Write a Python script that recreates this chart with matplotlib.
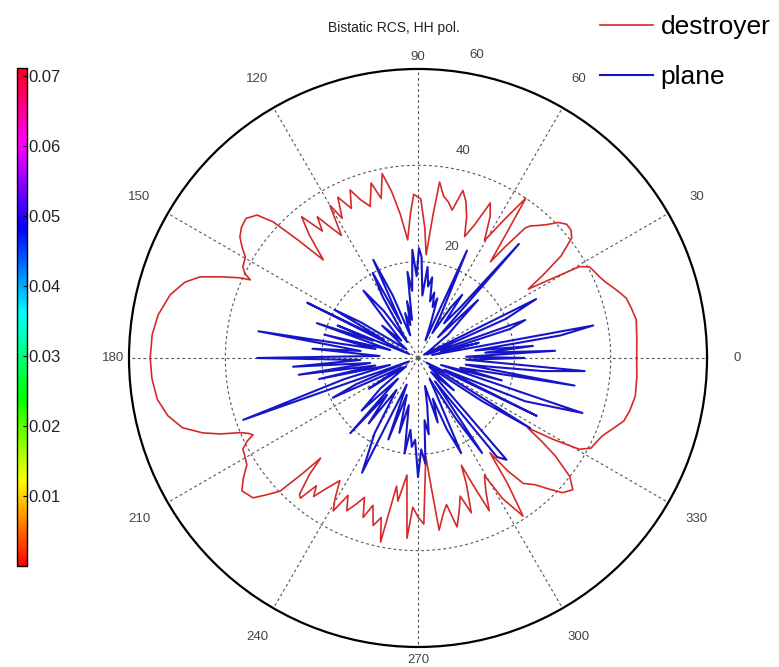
import numpy as np
import matplotlib
matplotlib.use("Agg")
import matplotlib.pyplot as plt
from matplotlib.colors import Normalize
import matplotlib.cm as cm

plt.rcParams['font.family'] = ['Liberation Sans', 'DejaVu Sans']

###
### Bistatic RCS, HH polarisation (angle in degrees, RCS on radial axis)
###
destroyer_deg = [0, 5, 10, 13, 16, 18, 20, 22, 24, 26,
                 28, 29.5, 30.5, 32, 33.5, 35.5, 38, 39.9, 42, 44,
                 46, 48, 49.6, 50.5, 52, 53, 54.5, 56, 58, 60.5,
                 63, 65, 67, 69, 71, 73, 75, 77, 79, 81,
                 83, 84, 85.5, 87, 89, 91.5, 93, 95, 97, 99,
                 101, 103, 105, 107.5, 110, 112, 114, 116.5, 118.5, 120,
                 122, 124, 125.5, 127, 129.5, 131.5, 134, 135.5, 136.8, 138.4,
                 141, 143.5, 145.8, 148, 149.7, 152.5, 154, 155, 155.8, 157.4,
                 159.6, 162, 165.7, 170.6, 175, 180, 184.5, 189, 193, 196.5,
                 199.2, 201, 202.8, 204, 205, 206, 207.5, 209, 212, 214.5,
                 217, 220.3, 222, 224, 225, 225.8, 227, 229, 230, 231.5,
                 233, 235, 237.5, 239.5, 241, 243, 245, 247, 249, 251,
                 253, 255, 257, 258.5, 260.5, 262, 264.6, 266.5, 268, 270,
                 272, 274.5, 276, 277, 279, 281, 283, 285, 287, 289,
                 291, 292, 293.5, 295, 297, 299.5, 301, 303.6, 305.5, 307.2,
                 308.5, 310, 312.7, 315, 317, 319.6, 322, 324.5, 326, 327.5,
                 329, 330.5, 332.5, 335, 337, 340, 343, 346, 350, 355,
                 360]
destroyer_rcs = [45.4, 45.6, 46, 45.5, 45, 44, 43, 42, 41.3, 40.8,
                 40.3, 38.5, 33, 27, 31, 36.5, 40.5, 41.4, 41.5, 40.5,
                 38.5, 37, 36, 35, 29, 25, 31, 40, 34, 28,
                 33, 35.5, 30, 27, 31, 34, 36, 31.5, 33, 34,
                 36.8, 30, 21.5, 27, 33, 34, 30, 24.6, 30, 35,
                 39, 34, 37.6, 33, 35, 37.6, 34, 37.3, 33, 36.6,
                 30, 33, 36, 33, 38, 34, 28.3, 35, 41.3, 44.7,
                 46, 45.6, 44.7, 43, 41.5, 41, 40, 38.4, 40.6, 43.8,
                 48.3, 50.9, 53.1, 54.7, 55.4, 55.6, 55.4, 54.8, 53.3, 51,
                 47.3, 44, 40, 38.5, 37.8, 39.5, 41, 41.2, 41.9, 44,
                 45.8, 44.9, 42.5, 39.8, 34, 29, 33, 37.5, 38, 33.9,
                 36, 33, 30.2, 34, 36.3, 32, 35, 33, 31, 35,
                 32, 36, 34, 39, 27, 30, 24.4, 37.5, 31, 33,
                 34.5, 20.5, 28, 36, 33, 31, 36, 33, 30, 34,
                 28, 24, 29, 35, 31, 28, 34, 39.4, 32, 24.7,
                 30, 34, 35.8, 38.5, 41, 42.2, 40, 35, 31, 27,
                 33, 38.5, 40.5, 41, 41.5, 43, 44.7, 45.3, 45.8, 45.6,
                 45.4]

plane_deg = [0, 1.5, 3, 4.5, 6, 7.5, 9, 10.5, 12, 14,
             15.5, 17.5, 19.5, 21, 24, 26.5, 28, 33, 38, 42,
             44, 46, 48.5, 50, 53, 55, 57, 60, 62, 65.5,
             67, 70, 72, 74, 76, 78, 80, 82, 84, 86,
             88, 89.5, 91, 93, 95, 97, 99, 101, 103, 106,
             109, 112, 114.5, 116, 118, 120, 124, 126, 129, 131,
             134, 138, 143, 148, 150, 152, 153.5, 156, 158, 159,
             161, 164, 166, 168, 170.5, 173, 175, 177, 180, 182,
             184, 186, 188, 190, 192, 194, 196, 199.5, 201, 203,
             205, 207, 209, 212, 215, 219, 223, 226, 228, 230,
             233, 236, 240, 244, 247, 250, 253, 256, 259, 262,
             264, 266, 268, 270, 272, 274, 276, 278, 281, 284,
             287, 290, 292, 294.4, 297, 299, 302, 304, 306, 308.6,
             311, 313, 318, 322, 326, 328, 331, 334, 336, 338,
             341.5, 343, 345, 347, 350, 352, 354, 355.5, 358, 360]
plane_rcs = [22, 10, 28.5, 14, 24, 12, 30, 37, 3, 13,
             5, 20, 23.6, 2, 20, 27.4, 1.5, 3, 8, 12,
             17.3, 6, 31.6, 14, 9, 16, 12.6, 6, 10, 24.5,
             4, 8, 13, 11, 14, 12, 17, 15, 19, 13,
             21, 22.8, 17, 22.5, 14, 18, 8, 12, 7, 9.7,
             5, 14, 22.4, 8, 20, 14.6, 4, 12, 18, 10,
             5, 10, 3, 14, 20, 8, 25.7, 2, 18, 10,
             22.2, 6, 20, 9, 33.6, 12, 22, 8, 33.4, 12,
             26, 10, 25, 9, 21, 6, 16, 38.5, 2, 14,
             19.5, 8, 4, 12, 3, 10, 16, 6, 21, 10,
             17, 8, 18, 26.5, 6, 18, 8, 16, 10, 20,
             15, 18.5, 17, 24.7, 19, 22, 13, 16, 10, 6,
             14, 9, 16, 21.7, 8, 5, 15, 23.8, 6, 26.3,
             28, 4, 10, 3, 16, 27.5, 2, 27.4, 6, 24,
             36, 5, 18, 9, 33, 10, 26, 34.7, 10, 22]

cbar_ticks = [0.01, 0.02, 0.03, 0.04, 0.05, 0.06, 0.07]
theta_ticks = [0, 30, 60, 90, 120, 150, 180, 210, 240, 270, 300, 330]
r_ticks = [20, 40, 60]

red = '#d42a2a'
blue = '#1616c8'
grid_kw = dict(color='#555555', linewidth=0.8, linestyle=(0, (2.5, 2.5)))

fig = plt.figure(figsize=(7.79, 6.67), dpi=100)
ax = fig.add_axes([0.1656, 0.030, 0.742, 0.8666], projection='polar')

###
### Curves
###
ax.plot(np.deg2rad(destroyer_deg), destroyer_rcs, color=red, linewidth=1.2,
        label='destroyer')
ax.plot(np.deg2rad(plane_deg), plane_rcs, color=blue, linewidth=1.5,
        label='plane')

ax.set_ylim(0, 60)
ax.set_rgrids([20, 40], labels=['', ''])
ax.set_thetagrids(theta_ticks, labels=[''] * len(theta_ticks))
ax.grid(True, **grid_kw)
ax.spines['polar'].set_linewidth(1.6)
ax.spines['polar'].set_color('black')

# angle labels sit just outside the rim
lab_r = {0: 66.2, 90: 62.4, 180: 63.3, 270: 62.7}
for t in theta_ticks:
    ax.text(np.deg2rad(t), lab_r.get(t, 66.8), str(t), ha='center', va='center',
            fontsize=9.5, color='#444444', clip_on=False)

# radial labels along ~77 deg
r_lab_pos = [(73, 24), (77.7, 44), (79, 64)]
for (a, rr), v in zip(r_lab_pos, r_ticks):
    ax.text(np.deg2rad(a), rr, str(v), ha='center', va='center',
            fontsize=9.5, color='#444444', clip_on=False)

fig.text(394 / 779, 1 - 28 / 667, 'Bistatic RCS, HH pol.', ha='center',
         va='center', fontsize=10, color='#222222')

fig.legend(loc='upper left', bbox_to_anchor=(600 / 779, 1 - 15 / 667),
           frameon=False, fontsize=19, handlelength=2.0, handletextpad=0.3,
           labelspacing=1.0, borderpad=0, borderaxespad=0)

###
### Colorbar
###
cax = fig.add_axes([0.0218, 0.151, 0.0128, 0.747])
sm = cm.ScalarMappable(norm=Normalize(0, 0.0711), cmap='hsv')
cb = fig.colorbar(sm, cax=cax, ticks=cbar_ticks)
cb.ax.set_yticklabels([f'{v:.2f}' for v in cbar_ticks])
cb.ax.tick_params(labelsize=12, direction='in', length=3, pad=1, width=0.8,
                  labelcolor='#222222')
cb.outline.set_linewidth(1.0)

fig.savefig('out.png', dpi=100)
